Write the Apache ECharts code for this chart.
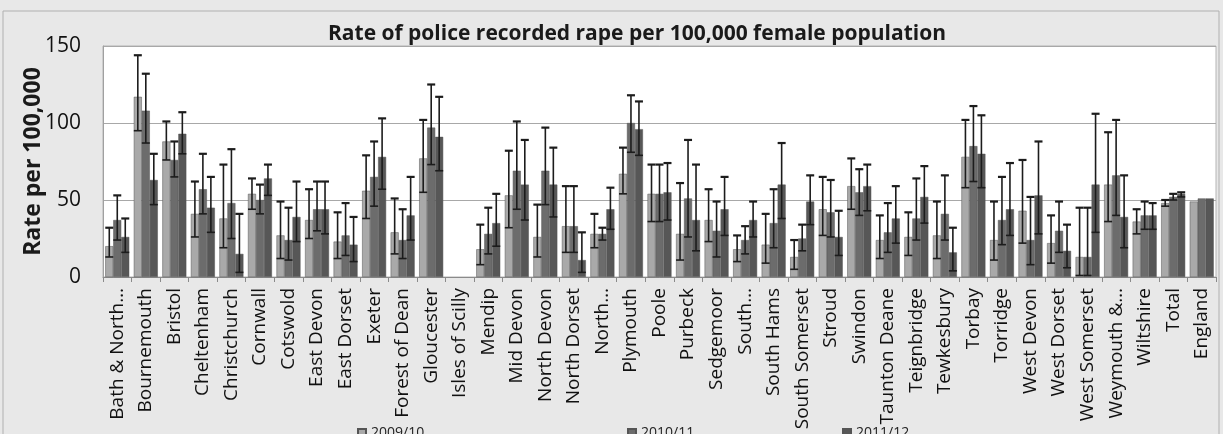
<!DOCTYPE html>
<html>
<head>
<meta charset="utf-8">
<title>Rate of police recorded rape</title>
<script src="https://cdn.jsdelivr.net/npm/echarts@6/dist/echarts.min.js"></script>
<style>
  html, body { margin: 0; padding: 0; background: #e8e8e8; }
  #chart { width: 1223px; height: 434px; }
</style>
</head>
<body>
<div id="chart"></div>
<script>
    // districts, in the order of the x axis
    const categories = [
        'Bath & North…', 'Bournemouth', 'Bristol', 'Cheltenham', 'Christchurch', 'Cornwall',
        'Cotswold', 'East Devon', 'East Dorset', 'Exeter', 'Forest of Dean', 'Gloucester',
        'Isles of Scilly', 'Mendip', 'Mid Devon', 'North Devon', 'North Dorset', 'North…',
        'Plymouth', 'Poole', 'Purbeck', 'Sedgemoor', 'South…', 'South Hams', 'South Somerset',
        'Stroud', 'Swindon', 'Taunton Deane', 'Teignbridge', 'Tewkesbury', 'Torbay', 'Torridge',
        'West Devon', 'West Dorset', 'West Somerset', 'Weymouth &…', 'Wiltshire', 'Total', 'England'
    ]
    const seriesNames = ['2009/10', '2010/11', '2011/12']

    // rates per 100,000
    const rate0910 = [20, 117, 88, 41, 38, 54, 27, 37, 23, 56, 29, 77, null, 18, 53, 26, 33, 28, 67, 54, 28, 37, 18, 21, 13, 44, 59, 24, 26, 27, 78, 24, 43, 22, 13, 60, 36, 48, 49]
    const rate1011 = [37, 108, 76, 57, 48, 50, 24, 44, 27, 65, 24, 97, null, 28, 69, 69, 33, 28, 100, 54, 51, 30, 24, 35, 25, 42, 55, 29, 38, 41, 85, 37, 24, 30, 13, 66, 40, 52, 51]
    const rate1112 = [26, 63, 93, 45, 15, 64, 39, 44, 21, 78, 40, 91, null, 35, 60, 60, 11, 44, 96, 55, 37, 44, 37, 60, 49, 26, 59, 38, 52, 16, 80, 44, 53, 17, 60, 39, 40, 54, 51]

    // confidence interval ends
    const low0910 = [13, 95, 76, 26, 19, 44, 12, 25, 12, 38, 15, 55, null, 8, 32, 13, 16, 19, 54, 36, 11, 23, 10, 9, 5, 27, 44, 12, 14, 12, 58, 11, 22, 9, 1, 36, 28, 46, null]
    const high0910 = [32, 144, 101, 62, 73, 64, 49, 57, 42, 79, 51, 102, null, 34, 82, 47, 59, 41, 84, 73, 61, 57, 27, 41, 24, 65, 77, 40, 42, 49, 102, 49, 76, 40, 45, 94, 44, 50, null]
    const low1011 = [24, 87, 65, 41, 25, 41, 11, 30, 14, 46, 12, 73, null, 15, 44, 47, 16, 24, 81, 36, 26, 13, 15, 19, 17, 26, 40, 16, 24, 24, 62, 21, 8, 16, 1, 40, 31, 50, null]
    const high1011 = [53, 132, 88, 80, 83, 60, 45, 62, 48, 88, 44, 125, null, 45, 101, 97, 59, 32, 118, 73, 89, 49, 33, 57, 34, 63, 70, 48, 64, 66, 111, 65, 52, 49, 45, 102, 49, 54, null]
    const low1112 = [16, 47, 80, 29, 3, 53, 23, 28, 10, 57, 24, 69, null, 20, 37, 39, 3, 31, 79, 37, 17, 27, 26, 38, 34, 14, 43, 22, 35, 4, 58, 27, 28, 6, 29, 19, 31, 52, null]
    const high1112 = [38, 80, 107, 65, 41, 73, 62, 62, 39, 103, 65, 117, null, 54, 89, 84, 29, 58, 114, 74, 73, 65, 49, 87, 66, 43, 73, 59, 72, 32, 105, 74, 88, 34, 106, 66, 48, 55, null]

    const colors = ['#a9a9a9', '#6c6c6c', '#575757']
    const CAT_GAP = 0.16
    const font = '"Open Sans", "Liberation Sans", sans-serif'

    function errorData(low, high) {
        let out = []
        for (let i = 0; i < categories.length; i++) {
            if (low[i] != null && high[i] != null) {
                out.push([i, low[i], high[i]])
            }
        }
        return out
    }

    function errorRenderer(k) {
        return function (params, api) {
            let idx = api.value(0)
            let lo = api.coord([idx, api.value(1)])
            let hi = api.coord([idx, api.value(2)])
            let band = api.size([1, 0])[0]
            let groupW = band * (1 - CAT_GAP)
            let barW = groupW / 3
            let x = lo[0] - groupW / 2 + barW * (k + 0.5)
            let cap = 4
            let style = { stroke: '#1c1c1c', lineWidth: 1.6 }
            return {
                type: 'group',
                children: [
                    { type: 'line', shape: { x1: x, y1: hi[1], x2: x, y2: lo[1] }, style: style },
                    { type: 'line', shape: { x1: x - cap, y1: hi[1], x2: x + cap, y2: hi[1] }, style: { stroke: '#1c1c1c', lineWidth: 2.2 } },
                    { type: 'line', shape: { x1: x - cap, y1: lo[1], x2: x + cap, y2: lo[1] }, style: style }
                ]
            }
        }
    }

    const rates = [rate0910, rate1011, rate1112]
    const lows = [low0910, low1011, low1112]
    const highs = [high0910, high1011, high1112]

    let series = []
    for (let k = 0; k < 3; k++) {
        series.push({
            name: seriesNames[k],
            type: 'bar',
            barGap: '0%',
            barCategoryGap: (CAT_GAP * 100) + '%',
            itemStyle: { color: colors[k], borderColor: '#555', borderWidth: 0.5 },
            data: rates[k]
        })
    }
    for (let k = 0; k < 3; k++) {
        series.push({
            type: 'custom',
            name: seriesNames[k] + ' CI',
            renderItem: errorRenderer(k),
            encode: { x: 0, y: [1, 2] },
            z: 5,
            silent: true,
            data: errorData(lows[k], highs[k])
        })
    }

    // one legend per item, the original spacing is uneven
    const legendLeft = [352, 622, 837]
    let legends = seriesNames.map(function (name, k) {
        return {
            data: [name],
            left: legendLeft[k],
            top: 421,
            icon: 'rect',
            itemWidth: 8,
            itemHeight: 8,
            textStyle: { fontSize: 14, color: '#222', fontFamily: font }
        }
    })

    let chart = echarts.init(document.getElementById('chart'))
    chart.setOption({
        backgroundColor: '#e8e8e8',
        animation: false,
        textStyle: { fontFamily: font },
        title: {
            text: 'Rate of police recorded rape per 100,000 female population',
            left: 632,
            top: 19,
            textAlign: 'center',
            textStyle: { fontSize: 21, fontWeight: 'bold', color: '#1a1a1a', fontFamily: font }
        },
        legend: legends,
        grid: {
            left: 103,
            right: 7,
            top: 46,
            bottom: 157,
            show: true,
            backgroundColor: '#ffffff',
            borderColor: '#b5b5b5',
            borderWidth: 1
        },
        xAxis: {
            type: 'category',
            data: categories,
            axisLine: { lineStyle: { color: '#8a8a8a', width: 1 } },
            axisTick: { show: true, length: 5, lineStyle: { color: '#8a8a8a' } },
            axisLabel: {
                interval: 0,
                rotate: 90,
                fontSize: 19,
                color: '#111',
                margin: 11,
                fontFamily: font
            }
        },
        yAxis: {
            type: 'value',
            min: 0,
            max: 150,
            interval: 50,
            name: 'Rate per 100,000',
            nameLocation: 'middle',
            nameGap: 58,
            nameMoveOverlap: false,
            nameTextStyle: { fontSize: 23, fontWeight: 'bold', color: '#1a1a1a', fontFamily: font },
            axisLine: { show: true, lineStyle: { color: '#a0a0a0' } },
            axisTick: { show: false },
            axisLabel: { fontSize: 21, color: '#111', margin: 22, fontFamily: font },
            splitLine: { lineStyle: { color: '#a8a8a8', width: 1.2 } }
        },
        graphic: [
            {
                type: 'rect',
                shape: { x: 3, y: 11, width: 1216, height: 430 },
                style: { fill: 'none', stroke: '#b0b0b0', lineWidth: 1 },
                silent: true
            }
        ],
        series: series
    })
</script>
</body>
</html>
